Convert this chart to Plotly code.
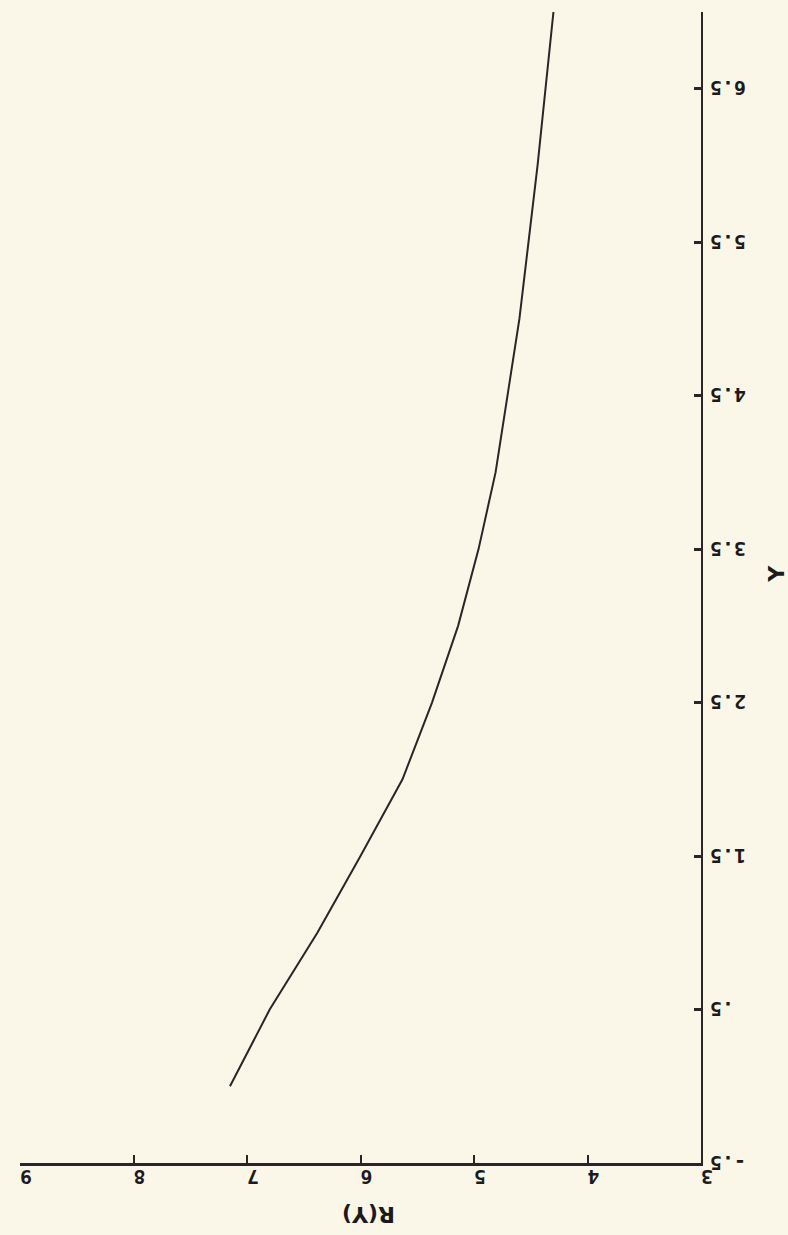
import plotly.graph_objects as go

# Y values and the computed R(Y)
y_vals = [0.0, 0.5, 1.0, 1.5, 2.0, 2.5, 3.0, 3.5, 4.0, 5.0, 6.0, 7.0]
r_vals = [7.15, 6.80, 6.38, 6.00, 5.63, 5.37, 5.14, 4.96, 4.81, 4.60, 4.44, 4.30]

r_ticks = [3, 4, 5, 6, 7, 8, 9]
r_tick_text = ["3", "4", "5", "6", "7", "8", "9"]
y_ticks = [-0.5, 0.5, 1.5, 2.5, 3.5, 4.5, 5.5, 6.5]
y_tick_text = ["-.5", ".5", "1.5", "2.5", "3.5", "4.5", "5.5", "6.5"]

ink = "#2a2527"
paper = "#faf7e8"
text_ink = "#1e1a1c"
tick_font = dict(family="DejaVu Sans Mono", size=20, color=text_ink, weight="bold")

fig = go.Figure()
fig.add_trace(go.Scatter(
    x=r_vals, y=y_vals, mode="lines",
    line=dict(color=ink, width=2),
    showlegend=False, hoverinfo="skip",
))

# upside-down tick labels to the right of the Y axis
y_label_notes = [
    dict(text=t, xref="paper", x=1, xanchor="left", xshift=7,
         yref="y", y=v, yanchor="middle", showarrow=False, textangle=180,
         font=tick_font)
    for v, t in zip(y_ticks, y_tick_text)
]

fig.update_layout(
    width=788, height=1235,
    margin=dict(l=20, r=87, t=12, b=72),
    paper_bgcolor=paper, plot_bgcolor=paper,
    xaxis=dict(
        range=[9, 3], tickvals=r_ticks, ticktext=r_tick_text,
        tickangle=180, tickfont=tick_font,
        showgrid=False, zeroline=False,
        showline=True, linecolor=ink, linewidth=3,
        ticks="inside", ticklen=8, tickwidth=2, tickcolor=ink,
    ),
    yaxis=dict(
        range=[-0.5, 7.0], tickvals=y_ticks, showticklabels=False,
        side="right",
        showgrid=False, zeroline=False,
        showline=True, linecolor=ink, linewidth=2,
        ticks="inside", ticklen=7, tickwidth=3, tickcolor=ink,
    ),
    annotations=y_label_notes + [
        dict(text="R(Y)", xref="x", x=5.93, yref="paper", y=0, yanchor="middle",
             yshift=-52, showarrow=False, textangle=180,
             font=dict(family="DejaVu Sans", size=22, color=text_ink, weight="bold")),
        dict(text="Y", xref="paper", x=1, xanchor="center", xshift=76,
             yref="y", y=3.34, showarrow=False, textangle=-90,
             font=dict(family="DejaVu Sans", size=22, color=text_ink, weight="bold")),
    ],
)

fig.write_html("out.html")
